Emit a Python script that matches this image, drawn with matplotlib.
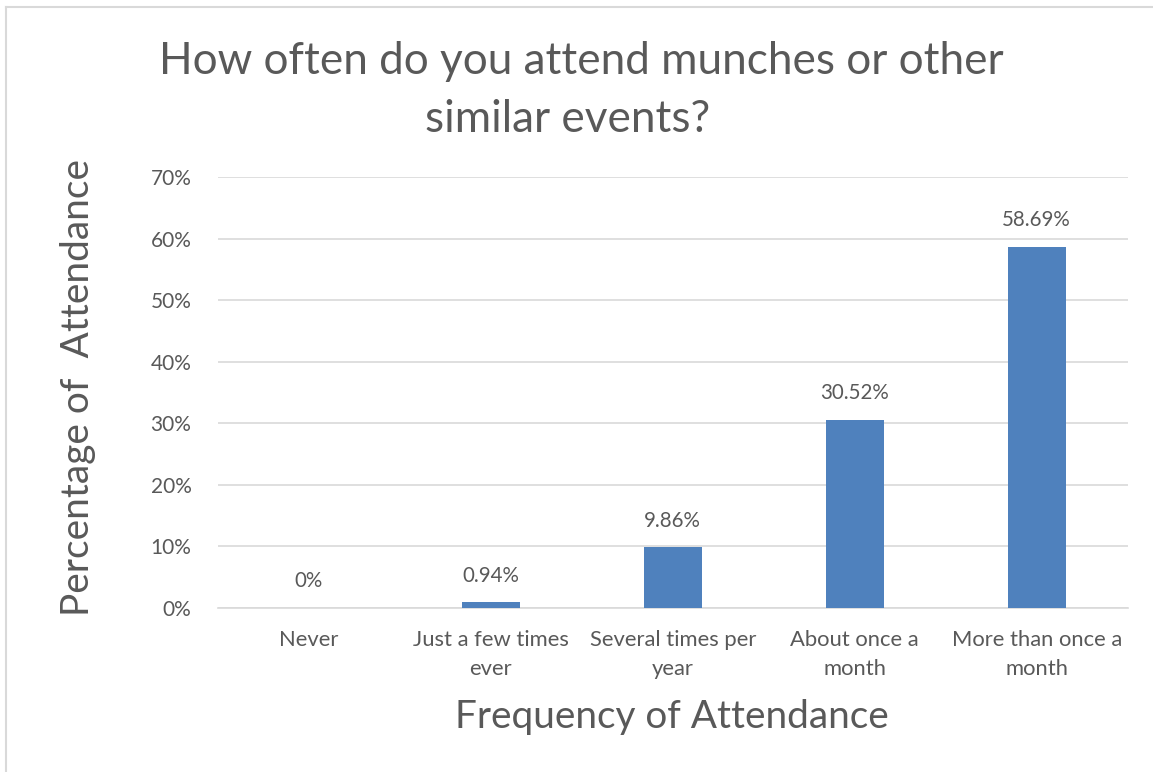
import matplotlib.pyplot as plt
from matplotlib.ticker import PercentFormatter

# --- Dados
categorias = ['Never', 'Just a few times\never', 'Several times per\nyear',
              'About once a\nmonth', 'More than once a\nmonth']
percentuais = [0, 0.94, 9.86, 30.52, 58.69]
rotulos = ['0%', '0.94%', '9.86%', '30.52%', '58.69%']

cinza = '#595959'
plt.rcParams['font.family'] = ['Lato', 'DejaVu Sans']

fig = plt.figure(figsize=(11.53, 7.72), dpi=100)
ax = fig.add_axes([0.189, 0.2124, 0.789, 0.5583])

x = range(len(categorias))
barras = ax.bar(x, percentuais, width=0.32, color='#4F81BD', zorder=3)

ax.set_xlim(-0.5, len(categorias) - 0.5)
ax.set_ylim(0, 70)
ax.set_yticks(range(0, 71, 10))
ax.yaxis.set_major_formatter(PercentFormatter(decimals=0))
ax.set_xticks(list(x))
ax.set_xticklabels(categorias, fontsize=15.8, color=cinza, linespacing=1.55)
ax.tick_params(axis='y', labelsize=15, labelcolor=cinza, length=0, pad=19)
ax.tick_params(axis='x', length=0, pad=16)

ax.grid(axis='y', color='#D9D9D9', linewidth=1.2, zorder=0)
for lado in ['top', 'right', 'left']:
    ax.spines[lado].set_visible(False)
ax.spines['bottom'].set_color('#D9D9D9')
ax.spines['bottom'].set_linewidth(1.2)

# rotulos acima das barras
for barra, texto in zip(barras, rotulos):
    ax.annotate(texto, (barra.get_x() + barra.get_width() / 2, barra.get_height()),
                xytext=(0, 12), textcoords='offset points',
                ha='center', va='bottom', fontsize=14.8, color=cinza)

# titulos dos eixos
fig.text(672 / 1153, 1 - 717 / 772, 'Frequency of Attendance',
         ha='center', va='center', fontsize=27.9, color=cinza)
fig.text(78 / 1153, 1 - 387 / 772, 'Percentage of  Attendance', rotation=90,
         ha='center', va='center', fontsize=28, color=cinza)

# titulo em duas linhas
fig.text(581 / 1153, 1 - 62 / 772, 'How often do you attend munches or other',
         ha='center', va='center', fontsize=31.8, color=cinza)
fig.text(568 / 1153, 1 - 120 / 772, 'similar events?',
         ha='center', va='center', fontsize=31.8, color=cinza)

# borda do grafico (so aparece a esquerda e em cima)
fig.add_artist(plt.Line2D([5.5 / 1153, 5.5 / 1153], [0, 1 - 6.5 / 772],
                          color='#D9D9D9', linewidth=1.5))
fig.add_artist(plt.Line2D([5.5 / 1153, 1], [1 - 6.5 / 772, 1 - 6.5 / 772],
                          color='#D9D9D9', linewidth=1.5))

fig.savefig('out.png', dpi=100)
